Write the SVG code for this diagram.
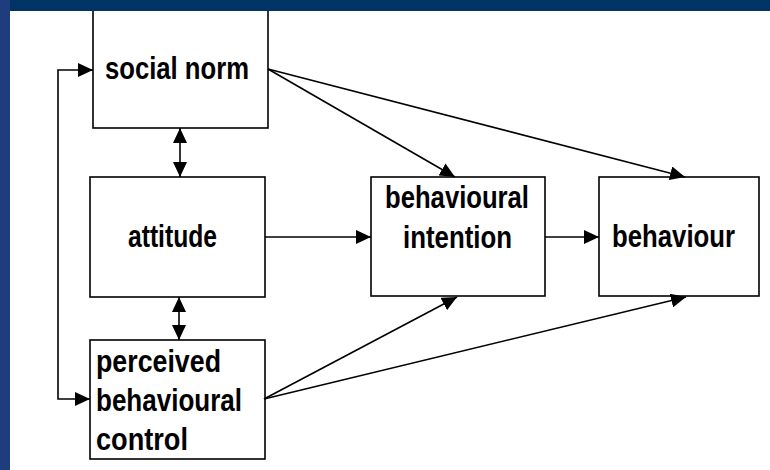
<svg xmlns="http://www.w3.org/2000/svg" width="770" height="470" viewBox="0 0 770 470">
<defs>
<marker id="ah" viewBox="0 0 15 14" markerWidth="15" markerHeight="14" refX="15" refY="7" markerUnits="userSpaceOnUse" orient="auto-start-reverse">
<path d="M0,0 L15,7 L0,14 z" fill="#000"/>
</marker>
<style>
.box{fill:#fff;stroke:#000;stroke-width:1.6}
.lbl{font-family:"Liberation Sans",Arial,sans-serif;font-weight:bold;font-size:32px;fill:#000}
.con{fill:none;stroke:#000;stroke-width:1.6;marker-end:url(#ah)}
.dbl{marker-start:url(#ah)}
</style>
</defs>
<rect x="0" y="0" width="770" height="470" fill="#fff"/>
<g id="social-norm">
<rect class="box" x="93" y="-5" width="175" height="133"/>
<text class="lbl" x="105" y="79" textLength="144" lengthAdjust="spacingAndGlyphs">social norm</text>
</g>
<g id="attitude">
<rect class="box" x="90" y="177" width="175" height="120"/>
<text class="lbl" x="128" y="247" textLength="89" lengthAdjust="spacingAndGlyphs">attitude</text>
</g>
<g id="perceived-behavioural-control">
<rect class="box" x="90" y="340" width="175" height="119"/>
<text class="lbl" x="96" y="372" textLength="125" lengthAdjust="spacingAndGlyphs">perceived</text>
<text class="lbl" x="96" y="411" textLength="146" lengthAdjust="spacingAndGlyphs">behavioural</text>
<text class="lbl" x="96" y="450" textLength="92" lengthAdjust="spacingAndGlyphs">control</text>
</g>
<g id="behavioural-intention">
<rect class="box" x="371" y="177" width="174" height="119"/>
<text class="lbl" x="385" y="208" textLength="144" lengthAdjust="spacingAndGlyphs">behavioural</text>
<text class="lbl" x="403" y="248" textLength="109" lengthAdjust="spacingAndGlyphs">intention</text>
</g>
<g id="behaviour">
<rect class="box" x="599" y="177" width="160" height="119"/>
<text class="lbl" x="612" y="247" textLength="123" lengthAdjust="spacingAndGlyphs">behaviour</text>
</g>
<g id="connectors">
<line class="con" x1="268" y1="69" x2="455" y2="177"/>
<line class="con" x1="268" y1="69" x2="685" y2="177"/>
<line class="con" x1="264" y1="399" x2="457" y2="297"/>
<line class="con" x1="264" y1="399" x2="686" y2="297"/>
<line class="con" x1="265" y1="237" x2="371" y2="237"/>
<line class="con" x1="545" y1="237" x2="599" y2="237"/>
<path class="con dbl" d="M93,70 H58 V399 H90"/>
<line class="con dbl" x1="180" y1="128" x2="180" y2="177"/>
<line class="con dbl" x1="179" y1="297" x2="179" y2="340"/>
</g>
<rect x="0" y="0" width="770" height="11" fill="#003366"/>
<rect x="0" y="0" width="10" height="470" fill="#1f3d7c"/>
</svg>
